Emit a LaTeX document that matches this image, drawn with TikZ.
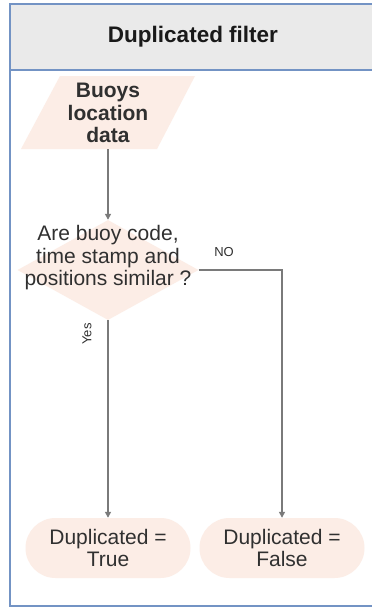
\documentclass[tikz,border=0pt]{standalone}
\usepackage{fontspec}
\setmainfont{Liberation Sans}
\usetikzlibrary{shapes.geometric,shapes.misc,arrows.meta}
\definecolor{frameblue}{HTML}{7393C4}
\definecolor{headgrey}{HTML}{EAEAEA}
\definecolor{peach}{HTML}{FCEDE6}
\definecolor{linegrey}{HTML}{7A7A7A}
\definecolor{txt}{HTML}{303030}
\tikzset{
  body/.style={font=\fontsize{21}{22.5}\selectfont, text=txt, align=center, inner sep=0pt},
  small/.style={font=\fontsize{13}{14}\selectfont, text=txt, inner sep=0pt},
  terminal/.style={shape=rounded rectangle, fill=peach, draw=none,
    minimum width=165pt, minimum height=60pt, inner sep=0pt},
  decision/.style={shape=diamond, fill=peach, draw=none, aspect=1.81,
    minimum width=181pt, minimum height=100pt, inner sep=0pt},
  flow/.style={draw=linegrey, line width=1.4pt, -{Triangle[length=6pt,width=6pt]}},
}
\begin{document}
\begin{tikzpicture}[x=1pt,y=-1pt]
  \useasboundingbox (0,0) rectangle (372,608);
  % swimlane frame with header band
  \fill[white] (0,0) rectangle (372,608);
  \fill[headgrey] (10,4) rectangle (376,70);
  \draw[frameblue, line width=1.5pt] (376,4) -- (10,4) -- (10,606) -- (376,606);
  \draw[frameblue, line width=1.8pt] (10,70) -- (376,70);
  \node[font=\fontsize{22.5}{24}\selectfont\bfseries, text=black!90, inner sep=0pt] (title) at (193,37) {Duplicated filter};

  % input data (parallelogram)
  \fill[peach] (60,76) -- (195,76) -- (157,149) -- (21,149) -- cycle;
  \coordinate (inbottom) at (108,149);
  \node[body, font=\fontsize{21}{22.5}\selectfont\bfseries] (input) at (108,113) {Buoys\\location\\data};

  % decision
  \node[decision] (dec) at (108,270) {};
  \node[body] (dectext) at (108,258) {Are buoy code,\\time stamp and\\positions similar ?};

  % outcomes
  \node[terminal] (true) at (108,548) {};
  \node[body] (truetext) at (108,548) {Duplicated =\\True};
  \node[terminal] (false) at (282,548) {};
  \node[body] (falsetext) at (282,548) {Duplicated =\\False};

  % connectors
  \draw[flow] (inbottom) -- (dec.north);
  \draw[flow] (dec.south) -- (true.north);
  \draw[flow] (dec.east) -| (false.north);

  % branch labels
  \node[small] (nolabel) at (224,252) {NO};
  \node[small, rotate=90] (yeslabel) at (87,334) {Yes};
\end{tikzpicture}
\end{document}
